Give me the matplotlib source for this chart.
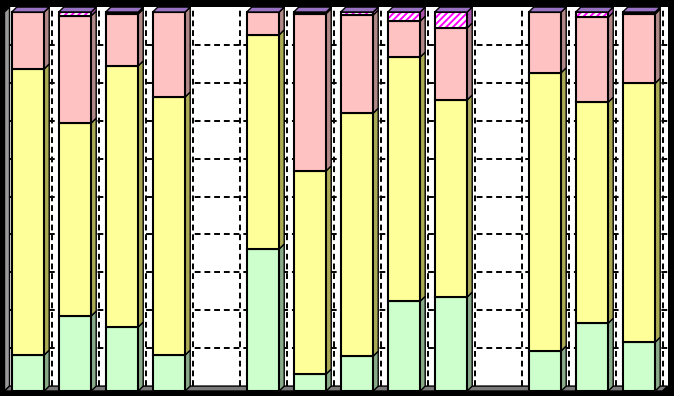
import matplotlib
matplotlib.use('Agg')
import matplotlib.pyplot as plt
import numpy as np
from matplotlib.patches import Polygon

# ---- data (percent of each bar) ----
categories = [str(i) for i in range(1, 15)]
green   = [9.5, 19.8, 16.9, 9.5, np.nan, 37.5, 4.5, 9.2, 23.7, 24.8, np.nan, 10.6, 17.9, 12.9]
yellow  = [75.5, 50.9, 68.9, 68.1, np.nan, 56.5, 53.6, 64.1, 64.4, 52.0, np.nan, 73.4, 58.3, 68.3]
pink    = [15.0, 28.3, 13.7, 22.4, np.nan, 6.0, 41.5, 25.9, 9.5, 19.0, np.nan, 16.0, 22.4, 18.3]
magenta = [0.0, 1.0, 0.5, 0.0, np.nan, 0.0, 0.4, 0.8, 2.4, 4.2, np.nan, 0.0, 1.4, 0.5]

series = [
    (green,   '#CCFFCC', '#88AA88', None),
    (yellow,  '#FFFF99', '#AAAA55', None),
    (pink,    '#FFC2C2', '#B08888', None),
    (magenta, 'white',   '#AA55AA', '/////'),
]

plt.rcParams['hatch.linewidth'] = 1.4

W = 0.69          # bar width (slot units)
DX = 5 / 47       # 3D depth offset in x
DY = 1.3          # 3D depth offset in y (percent units)
PXU = 3.79        # pixels per percent

fig = plt.figure(figsize=(6.74, 3.96), dpi=100, facecolor='black')
x0 = -0.5 + DX
x1 = len(categories) - 0.5 + DX
left_px = 28 + 47 * x0
right_px = 28 + 47 * x1
bot_px = 391 - PXU * DY
top_px = 391 - PXU * (100 + DY)
ax = fig.add_axes([left_px / 674, (396 - bot_px) / 396,
                   (right_px - left_px) / 674, (bot_px - top_px) / 396])
ax.set_facecolor('white')
ax.set_xlim(x0, x1)
ax.set_ylim(DY, 100 + DY)
for s in ax.spines.values():
    s.set_visible(False)
ax.set_xticks([])
ax.set_yticks([])

# gridlines on back wall
for v in range(10, 100, 10):
    ax.plot([x0, x1], [v + DY, v + DY], color='black', lw=1.4,
            ls=(0, (3, 2)), zorder=1)
for k in range(len(categories)):
    ax.plot([k + 0.5, k + 0.5], [DY, 100 + DY], color='black', lw=1.4,
            ls=(0, (3, 2)), zorder=1)

# left wall and floor
n = len(categories)
ax.add_patch(Polygon([(-0.5, 0), (x0, DY), (x0, 100 + DY), (-0.5, 100)],
                     closed=True, facecolor='#9A9A9A', edgecolor='black',
                     lw=1.0, clip_on=False, zorder=2))
ax.add_patch(Polygon([(-0.5, 0), (n - 0.5, 0), (x1, DY), (x0, DY)],
                     closed=True, facecolor='#7A7A7A', edgecolor='black',
                     lw=1.0, clip_on=False, zorder=2))

# 3D stacked bars
for i in range(n):
    if np.isnan(green[i]):
        continue
    b = 0.0
    for vals, fc, sc, hatch in series:
        v = vals[i]
        xr = i + W / 2
        # side face
        ax.add_patch(Polygon([(xr, b), (xr + DX, b + DY), (xr + DX, b + v + DY), (xr, b + v)],
                             closed=True, facecolor=sc, edgecolor='black', lw=1.0,
                             clip_on=False, zorder=3))
        if hatch:
            ax.bar(i, v, width=W, bottom=b, color=fc, edgecolor='#FF00FF',
                   hatch=hatch, lw=0, clip_on=False, zorder=4)
            ax.bar(i, v, width=W, bottom=b, fill=False, edgecolor='black',
                   lw=1.5, clip_on=False, zorder=5)
        else:
            ax.bar(i, v, width=W, bottom=b, color=fc, edgecolor='black',
                   lw=1.5, clip_on=False, zorder=4)
        b += v
    # top face
    xl = i - W / 2
    xr = i + W / 2
    ax.add_patch(Polygon([(xl, b), (xl + DX, b + DY), (xr + DX, b + DY), (xr, b)],
                         closed=True, facecolor='#9A72C4', edgecolor='black', lw=1.0,
                         clip_on=False, zorder=6))

fig.savefig('out.png', dpi=100, facecolor='black')
